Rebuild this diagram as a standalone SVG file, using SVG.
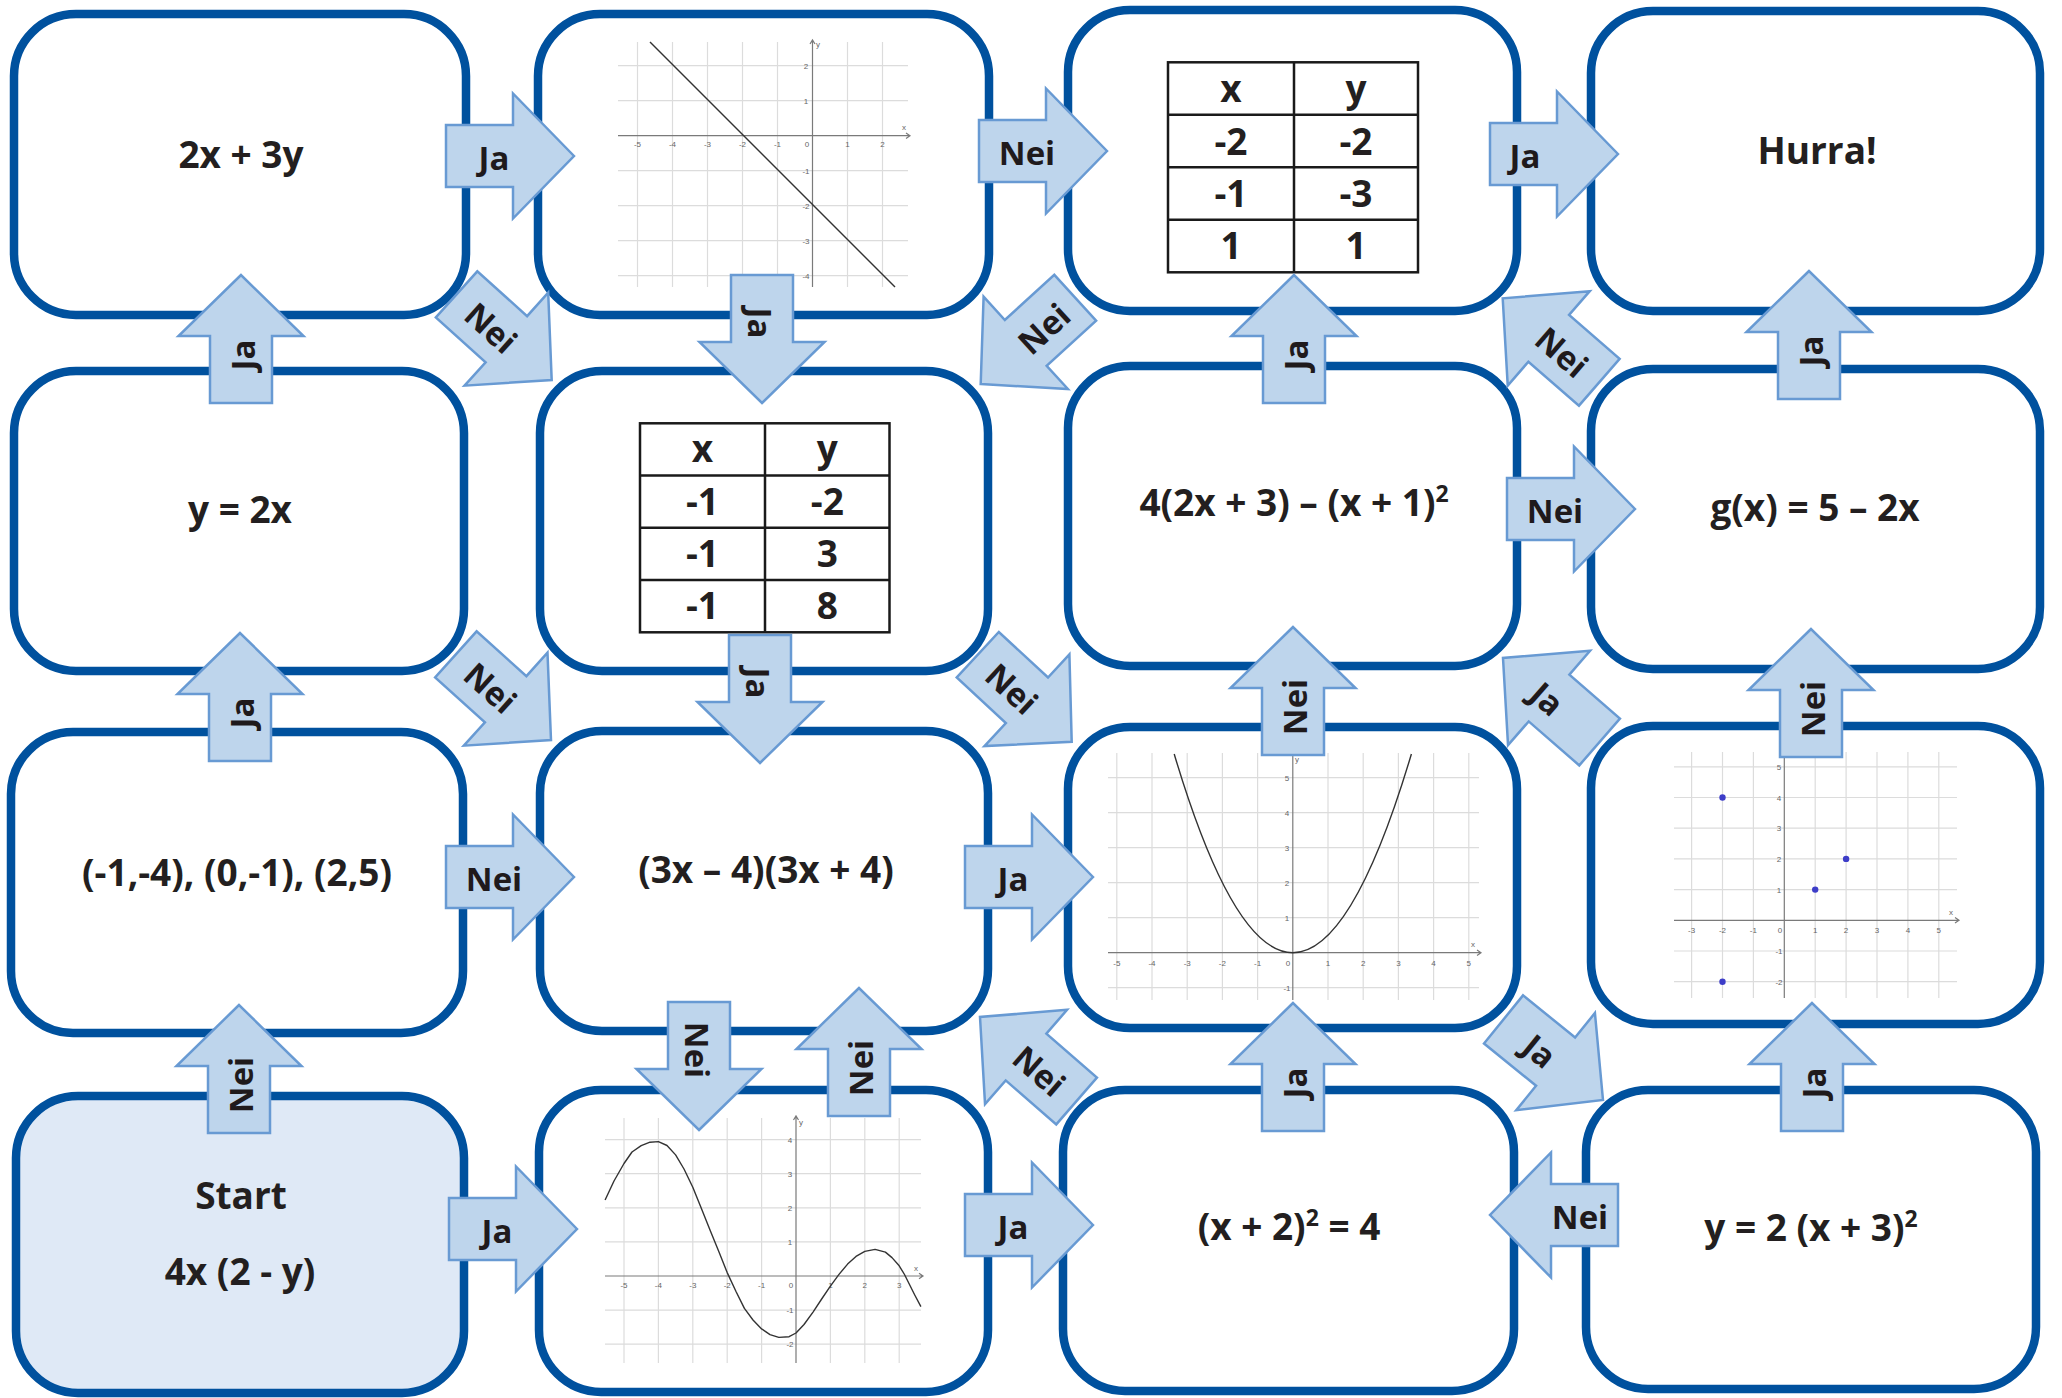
<svg xmlns="http://www.w3.org/2000/svg" xmlns:xlink="http://www.w3.org/1999/xlink" width="2062" height="1398" viewBox="0 0 2062 1398">
<style>
.box{fill:#ffffff;stroke:#00519e;stroke-width:8.5}
.start{fill:#dfe9f6}
.arr{fill:#bed5ec;stroke:#689ad3;stroke-width:2.5;stroke-linejoin:miter}
.lbl{font-family:"Open Sans","DejaVu Sans",sans-serif;font-weight:700;font-size:33px;fill:#1f1a1c;text-anchor:middle}
.t{font-family:"Open Sans","DejaVu Sans",sans-serif;font-weight:700;font-size:37px;fill:#231f20;text-anchor:middle}
.sup{font-size:23px}
.tbl{fill:none;stroke:#1a1a1a;stroke-width:2.5}
.grid{stroke:#dcdcdc;stroke-width:1.2;fill:none}
.axis{stroke:#7a7a7a;stroke-width:1.2;fill:none}
.curve{stroke:#333333;stroke-width:1.4;fill:none;stroke-linejoin:round}
.ax{font-family:"Liberation Sans",Arial,sans-serif;font-size:8px;fill:#666666;text-anchor:middle}
.pt{fill:#3d3dc8}
</style>
<defs>
<path id="arrow" d="M0,0 L-61,-62.5 L-61,-31 L-128,-31 L-128,31 L-61,31 L-61,62.5 Z"/>
</defs>

<g id="node-r1c1"><rect class="box" x="14" y="14" width="452" height="301" rx="62" ry="62"/><text class="t" x="241" y="168">2x + 3y</text></g>

<g id="node-r1c2"><rect class="box" x="538" y="14" width="451" height="301" rx="62" ry="62"/>
<g class="grid">
<path d="M637.5,42V287M672.5,42V287M707.5,42V287M742.5,42V287M777.5,42V287M847.5,42V287M882.5,42V287"/>
<path d="M618,65.7H908M618,100.7H908M618,170.7H908M618,205.7H908M618,240.7H908M618,275.7H908"/>
</g>
<path class="axis" d="M618,135.7H910M812.5,287V40M906,133l4,2.7l-4,2.7M810,44l2.5,-4l2.5,4"/>
<g class="ax"><text x="637.5" y="147">-5</text><text x="672.5" y="147">-4</text><text x="707.5" y="147">-3</text><text x="742.5" y="147">-2</text><text x="777.5" y="147">-1</text><text x="807" y="147">0</text><text x="847.5" y="147">1</text><text x="882.5" y="147">2</text>
<text x="806" y="68.7">2</text><text x="806" y="103.7">1</text><text x="806" y="173.7">-1</text><text x="806" y="208.7">-2</text><text x="806" y="243.7">-3</text><text x="806" y="278.7">-4</text>
<text x="904" y="130">x</text><text x="818" y="47">y</text></g>
<path class="curve" d="M650,42L895,287"/>
</g>

<g id="node-r1c3"><rect class="box" x="1068" y="10" width="449" height="301" rx="62" ry="62"/>
<rect class="tbl" x="1168" y="62.3" width="250" height="210"/>
<path class="tbl" d="M1294,62.3V272.3M1168,114.8H1418M1168,167.3H1418M1168,219.8H1418"/>
<text class="t" x="1231" y="102">x</text><text class="t" x="1356" y="102">y</text>
<text class="t" x="1231" y="154.5">-2</text><text class="t" x="1356" y="154.5">-2</text>
<text class="t" x="1231" y="207">-1</text><text class="t" x="1356" y="207">-3</text>
<text class="t" x="1231" y="259">1</text><text class="t" x="1356" y="259">1</text>
</g>

<g id="node-r1c4"><rect class="box" x="1591" y="11" width="449" height="300" rx="62" ry="62"/><text class="t" x="1817" y="164">Hurra!</text></g>

<g id="node-r2c1"><rect class="box" x="14" y="371" width="450" height="300" rx="62" ry="62"/><text class="t" x="240" y="523">y = 2x</text></g>

<g id="node-r2c2"><rect class="box" x="540" y="371" width="448" height="300" rx="62" ry="62"/>
<rect class="tbl" x="640" y="423.3" width="249.5" height="209"/>
<path class="tbl" d="M765,423.3V632.3M640,475.6H889.5M640,527.8H889.5M640,580H889.5"/>
<text class="t" x="702.5" y="462">x</text><text class="t" x="827.3" y="462">y</text>
<text class="t" x="702.5" y="515">-1</text><text class="t" x="827.3" y="515">-2</text>
<text class="t" x="702.5" y="567">-1</text><text class="t" x="827.3" y="567">3</text>
<text class="t" x="702.5" y="619">-1</text><text class="t" x="827.3" y="619">8</text>
</g>

<g id="node-r2c3"><rect class="box" x="1068" y="366" width="449" height="300" rx="62" ry="62"/><text class="t" x="1294" y="516">4(2x + 3) – (x + 1)<tspan class="sup" dy="-14">2</tspan></text></g>

<g id="node-r2c4"><rect class="box" x="1591" y="369" width="449" height="300" rx="62" ry="62"/><text class="t" x="1815" y="521">g(x) = 5 – 2x</text></g>

<g id="node-r3c1"><rect class="box" x="11" y="732" width="452" height="301" rx="62" ry="62"/><text class="t" x="237" y="886">(-1,-4), (0,-1), (2,5)</text></g>

<g id="node-r3c2"><rect class="box" x="540" y="731" width="448" height="300" rx="62" ry="62"/><text class="t" x="766" y="883">(3x – 4)(3x + 4)</text></g>

<g id="node-r3c3"><rect class="box" x="1068" y="727" width="449" height="301" rx="62" ry="62"/>
<g class="grid">
<path d="M1116.8,753V1000M1152,753V1000M1187.2,753V1000M1222.4,753V1000M1257.6,753V1000M1328,753V1000M1363.2,753V1000M1398.4,753V1000M1433.6,753V1000M1468.8,753V1000"/>
<path d="M1108,777.7H1479M1108,812.7H1479M1108,847.7H1479M1108,882.7H1479M1108,917.7H1479M1108,987.7H1479"/>
</g>
<path class="axis" d="M1108,952.7H1481M1292.8,1000V753M1477,950l4,2.7l-4,2.7"/>
<g class="ax"><text x="1116.8" y="966">-5</text><text x="1152" y="966">-4</text><text x="1187.2" y="966">-3</text><text x="1222.4" y="966">-2</text><text x="1257.6" y="966">-1</text><text x="1288" y="966">0</text><text x="1328" y="966">1</text><text x="1363.2" y="966">2</text><text x="1398.4" y="966">3</text><text x="1433.6" y="966">4</text><text x="1468.8" y="966">5</text>
<text x="1287" y="780.7">5</text><text x="1287" y="815.7">4</text><text x="1287" y="850.7">3</text><text x="1287" y="885.7">2</text><text x="1287" y="920.7">1</text><text x="1287" y="990.7">-1</text>
<text x="1473" y="947">x</text><text x="1297" y="762">y</text></g>
<path class="curve" d="M1174.2,754Q1292.8,1151.4 1411.4,754"/>
</g>

<g id="node-r3c4"><rect class="box" x="1591" y="726" width="449" height="298" rx="62" ry="62"/>
<g class="grid">
<path d="M1691.6,752V998M1722.5,752V998M1753.4,752V998M1815.2,752V998M1846.1,752V998M1877,752V998M1907.9,752V998M1938.8,752V998"/>
<path d="M1674,766.8H1957M1674,797.5H1957M1674,828.2H1957M1674,858.9H1957M1674,889.6H1957M1674,951H1957M1674,981.7H1957"/>
</g>
<path class="axis" d="M1674,920.3H1959M1784.3,998V752M1955,917.6l4,2.7l-4,2.7"/>
<g class="ax"><text x="1691.6" y="933">-3</text><text x="1722.5" y="933">-2</text><text x="1753.4" y="933">-1</text><text x="1780" y="933">0</text><text x="1815.2" y="933">1</text><text x="1846.1" y="933">2</text><text x="1877" y="933">3</text><text x="1907.9" y="933">4</text><text x="1938.8" y="933">5</text>
<text x="1779" y="769.8">5</text><text x="1779" y="800.5">4</text><text x="1779" y="831.2">3</text><text x="1779" y="861.9">2</text><text x="1779" y="892.6">1</text><text x="1779" y="954">-1</text><text x="1779" y="984.7">-2</text>
<text x="1951" y="915">x</text></g>
<circle class="pt" cx="1722.5" cy="797.5" r="3.2"/><circle class="pt" cx="1846.1" cy="858.9" r="3.2"/><circle class="pt" cx="1815.2" cy="889.6" r="3.2"/><circle class="pt" cx="1722.5" cy="981.7" r="3.2"/>
</g>

<g id="node-r4c1"><rect class="box start" x="16" y="1096" width="448" height="297" rx="62" ry="62"/><text class="t" x="241" y="1209">Start</text><text class="t" x="240" y="1285">4x (2 - y)</text></g>

<g id="node-r4c2"><rect class="box" x="539" y="1090" width="449" height="302" rx="62" ry="62"/>
<g class="grid">
<path d="M624,1118V1363M658.4,1118V1363M692.8,1118V1363M727.2,1118V1363M761.6,1118V1363M830.4,1118V1363M864.8,1118V1363M899.2,1118V1363"/>
<path d="M605,1139.6H921M605,1173.7H921M605,1207.8H921M605,1241.9H921M605,1310.1H921M605,1344.2H921"/>
</g>
<path class="axis" d="M605,1276H923M796,1363V1116M919,1273.3l4,2.7l-4,2.7M793.5,1120l2.5,-4l2.5,4"/>
<g class="ax"><text x="624" y="1288">-5</text><text x="658.4" y="1288">-4</text><text x="692.8" y="1288">-3</text><text x="727.2" y="1288">-2</text><text x="761.6" y="1288">-1</text><text x="791" y="1288">0</text><text x="830.4" y="1288">1</text><text x="864.8" y="1288">2</text><text x="899.2" y="1288">3</text>
<text x="790" y="1142.6">4</text><text x="790" y="1176.7">3</text><text x="790" y="1210.8">2</text><text x="790" y="1244.9">1</text><text x="790" y="1313.1">-1</text><text x="790" y="1347.2">-2</text>
<text x="916" y="1271">x</text><text x="801" y="1125">y</text></g>
<polyline class="curve" points="605.1,1200 614,1181 624,1163.5 632,1152 641.2,1145.7 650,1142.2 658.4,1141.6 667,1145.5 675.6,1154.9 684,1169 692.8,1187.3 701,1207.5 710,1230 719,1252 727.2,1272.6 736,1291.5 744.4,1308.4 753,1320 761.6,1328.9 770,1334.6 778.8,1337.4 789.1,1336.7 796,1333 804,1324.5 813.2,1311.8 822,1298.5 830.4,1286.2 839,1274.4 847.6,1264.1 856,1256.4 864.8,1251.4 875.1,1249.4 885.4,1252.1 892,1257.6 899.2,1265.8 904.5,1274.5 909.5,1284.5 915,1295.5 920.9,1306.7"/>
</g>

<g id="node-r4c3"><rect class="box" x="1063" y="1090" width="451" height="301" rx="62" ry="62"/><text class="t" x="1289" y="1240">(x + 2)<tspan class="sup" dy="-14">2</tspan><tspan dy="14"> = 4</tspan></text></g>

<g id="node-r4c4"><rect class="box" x="1586" y="1090" width="450" height="299" rx="62" ry="62"/><text class="t" x="1811" y="1241">y = 2 (x + 3)<tspan class="sup" dy="-14">2</tspan></text></g>

<g id="connectors">
<g transform="translate(574,156)"><use href="#arrow" class="arr"/><text class="lbl" x="-80" y="14">Ja</text></g>
<g transform="translate(1107,151)"><use href="#arrow" class="arr"/><text class="lbl" x="-80" y="14">Nei</text></g>
<g transform="translate(1618,154)"><use href="#arrow" class="arr"/><text class="lbl" x="-93" y="14">Ja</text></g>
<g transform="translate(241,275) rotate(-90)"><use href="#arrow" class="arr"/><text class="lbl" x="-80" y="14">Ja</text></g>
<g transform="translate(551.7,380) rotate(42)"><use href="#arrow" class="arr"/><text class="lbl" x="-80" y="14">Nei</text></g>
<g transform="translate(762,403) rotate(90)"><use href="#arrow" class="arr"/><text class="lbl" x="-80" y="14">Ja</text></g>
<g transform="translate(980.7,384) rotate(137.6)"><use href="#arrow" class="arr"/><text class="lbl" transform="translate(-84,0) rotate(180)" y="14">Nei</text></g>
<g transform="translate(1294,275) rotate(-90)"><use href="#arrow" class="arr"/><text class="lbl" x="-80" y="14">Ja</text></g>
<g transform="translate(1502.7,298.3) rotate(-139)"><use href="#arrow" class="arr"/><text class="lbl" transform="translate(-80,0) rotate(180)" y="14">Nei</text></g>
<g transform="translate(1809,271) rotate(-90)"><use href="#arrow" class="arr"/><text class="lbl" x="-80" y="14">Ja</text></g>
<g transform="translate(240,633) rotate(-90)"><use href="#arrow" class="arr"/><text class="lbl" x="-80" y="14">Ja</text></g>
<g transform="translate(551,740) rotate(42)"><use href="#arrow" class="arr"/><text class="lbl" x="-80" y="14">Nei</text></g>
<g transform="translate(760,763) rotate(90)"><use href="#arrow" class="arr"/><text class="lbl" x="-80" y="14">Ja</text></g>
<g transform="translate(1071.7,741.7) rotate(42.8)"><use href="#arrow" class="arr"/><text class="lbl" x="-80" y="14">Nei</text></g>
<g transform="translate(1293,627) rotate(-90)"><use href="#arrow" class="arr"/><text class="lbl" x="-80" y="14">Nei</text></g>
<g transform="translate(1635,509)"><use href="#arrow" class="arr"/><text class="lbl" x="-80" y="14">Nei</text></g>
<g transform="translate(1811,629) rotate(-90)"><use href="#arrow" class="arr"/><text class="lbl" x="-80" y="14">Nei</text></g>
<g transform="translate(1503,658) rotate(-139)"><use href="#arrow" class="arr"/><text class="lbl" transform="translate(-60,0) rotate(180)" y="14">Ja</text></g>
<g transform="translate(574,877)"><use href="#arrow" class="arr"/><text class="lbl" x="-80" y="14">Nei</text></g>
<g transform="translate(1093,877)"><use href="#arrow" class="arr"/><text class="lbl" x="-80" y="14">Ja</text></g>
<g transform="translate(699,1130) rotate(90)"><use href="#arrow" class="arr"/><text class="lbl" x="-80" y="14">Nei</text></g>
<g transform="translate(859,988) rotate(-90)"><use href="#arrow" class="arr"/><text class="lbl" x="-80" y="14">Nei</text></g>
<g transform="translate(980,1017) rotate(-139)"><use href="#arrow" class="arr"/><text class="lbl" transform="translate(-80,0) rotate(180)" y="14">Nei</text></g>
<g transform="translate(1293,1003) rotate(-90)"><use href="#arrow" class="arr"/><text class="lbl" x="-80" y="14">Ja</text></g>
<g transform="translate(1603,1100) rotate(39)"><use href="#arrow" class="arr"/><text class="lbl" x="-80" y="14">Ja</text></g>
<g transform="translate(1812,1003) rotate(-90)"><use href="#arrow" class="arr"/><text class="lbl" x="-80" y="14">Ja</text></g>
<g transform="translate(239,1005) rotate(-90)"><use href="#arrow" class="arr"/><text class="lbl" x="-80" y="14">Nei</text></g>
<g transform="translate(577,1229)"><use href="#arrow" class="arr"/><text class="lbl" x="-80" y="14">Ja</text></g>
<g transform="translate(1093,1225)"><use href="#arrow" class="arr"/><text class="lbl" x="-80" y="14">Ja</text></g>
<g transform="translate(1490,1215) rotate(180)"><use href="#arrow" class="arr"/><text class="lbl" transform="translate(-90,0) rotate(180)" y="14">Nei</text></g>
</g>
</svg>
